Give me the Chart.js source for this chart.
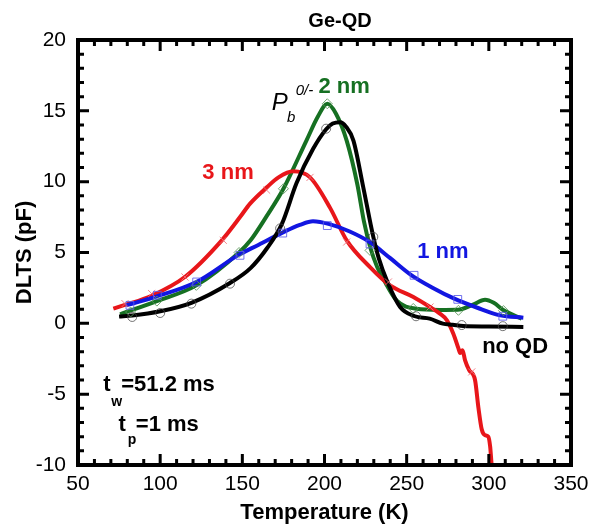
<!DOCTYPE html>
<html>
<head>
<meta charset="utf-8">
<script src="https://cdn.jsdelivr.net/npm/chart.js@4.4.1/dist/chart.umd.min.js"></script>
<style>
  html, body { margin: 0; padding: 0; background: #fff; }
  #wrap { width: 600px; height: 527px; position: relative; }
</style>
</head>
<body>
<div id="wrap"><canvas id="c" width="600" height="527"></canvas></div>
<script>
// ---- Data ----
const xTicks = [50, 100, 150, 200, 250, 300, 350];
const yTicks = [-10, -5, 0, 5, 10, 15, 20];

// no QD (black)
const tempNoQD = [75, 83, 100, 119, 142.5, 155, 165, 174, 183, 193, 201, 205, 209.5, 213, 217.6, 223.6, 229.7, 233, 238, 246, 255, 264, 272, 278, 284.5, 300, 321];
const dltsNoQD = [0.48, 0.55, 0.85, 1.45, 2.85, 3.9, 5.3, 7.0, 9.9, 12.3, 13.7, 14.1, 14.2, 13.9, 12.9, 9.6, 6.1, 4.6, 3.0, 1.15, 0.5, 0.33, -0.02, -0.1, -0.19, -0.22, -0.26];

// 2 nm (green)
const temp2nm = [75.6, 98, 122, 148, 155, 165, 175, 189, 196, 201.7, 207, 213.5, 220, 224, 228, 232, 236, 244, 256, 270, 281, 290, 297.7, 303, 309, 320];
const dlts2nm = [0.64, 1.57, 2.68, 5.0, 5.86, 7.6, 9.5, 12.9, 14.6, 15.5, 14.8, 12.9, 9.8, 7.2, 5.3, 4.0, 3.1, 1.6, 1.03, 0.95, 0.96, 1.3, 1.67, 1.45, 0.92, 0.33];

// 3 nm (red)
const temp3nm = [71.5, 78.6, 94.8, 115, 137.5, 148.6, 154.7, 164.9, 172, 181, 191.2, 203.4, 213.5, 227.7, 239.9, 254.1, 264.2, 270, 274.4, 278.4, 281.5, 282.5, 284, 285.5, 288, 291.6, 293.6, 295.7, 297.7, 299.7, 300.8, 301.8, 303];
const dlts3nm = [1.04, 1.3, 1.95, 3.27, 5.86, 7.5, 8.45, 9.6, 10.3, 10.73, 10.3, 8.15, 5.86, 3.97, 2.68, 1.86, 1.15, 0.7, 0.23, -0.73, -1.77, -2.1, -1.9, -2.6, -3.3, -4.0, -5.9, -7.5, -7.9, -8.0, -8.7, -10.1, -11];

// 1 nm (blue)
const temp1nm = [79.6, 98, 122, 148, 160, 175, 185, 193, 203, 215, 227.5, 240, 253, 266, 279, 293, 307, 321];
const dlts1nm = [1.27, 1.9, 2.92, 4.85, 5.55, 6.44, 6.95, 7.2, 7.0, 6.5, 5.74, 4.6, 3.39, 2.5, 1.74, 1.1, 0.56, 0.4];

// sparse measurement markers
const mkTempNoQD = [83, 100, 119, 142.5, 173, 201, 229.7, 255.7, 283.5, 308.5];
const mkDltsNoQD = [0.45, 0.73, 1.39, 2.8, 6.7, 13.74, 6.1, 0.5, -0.12, -0.2];
const mkTemp1nm = [81.6, 98.3, 122.2, 148.6, 174.6, 201.7, 227.7, 254.5, 281.1, 308.5];
const mkDlts1nm = [1.27, 1.98, 2.92, 4.8, 6.37, 6.9, 5.6, 3.39, 1.69, 0.5];
const mkTemp2nm = [82, 98, 122, 148, 175, 201.7, 227.7, 254, 281.5, 308.9];
const mkDlts2nm = [0.8, 1.57, 2.68, 5.0, 9.5, 15.5, 5.15, 1.05, 0.92, 0.9];
const mkTemp3nm = [78.6, 94.8, 115.1, 138.4, 164.8, 191.2, 213.5, 238.9, 264.2, 289.6];
const mkDlts3nm = [1.39, 2.1, 3.27, 5.86, 9.4, 10.3, 5.74, 2.92, 1.15, -3.43];

const pts = (xs, ys) => xs.map((x, i) => ({ x: x, y: ys[i] }));

const FONT = "'Liberation Sans', Arial, Helvetica, sans-serif";
const RED = 'rgb(232,22,26)';
const GREEN = 'rgb(22,112,34)';
const BLUE = 'rgb(18,22,225)';

function lineDs(label, xs, ys, color) {
  return { label, data: pts(xs, ys), borderColor: color, backgroundColor: color,
    borderWidth: 4, pointRadius: 0, showLine: true, cubicInterpolationMode: 'monotone', order: 2 };
}
function markDs(label, xs, ys, color, style, r) {
  return { label, data: pts(xs, ys), borderColor: color, backgroundColor: 'rgba(0,0,0,0)',
    borderWidth: 1, pointRadius: r, pointStyle: style, showLine: false, order: 1 };
}

const deco = {
  id: 'deco',
  afterDatasetsDraw(chart) {
    const ctx = chart.ctx;
    const xs = chart.scales.x, ys = chart.scales.y;
    const a = chart.chartArea;
    ctx.save();
    // ticks on all four sides, inward
    ctx.strokeStyle = '#000';
    ctx.lineWidth = 3;
    ctx.lineCap = 'butt';
    for (let t = 50; t <= 350; t += 10) {
      const major = t % 50 === 0;
      const L = major ? 11 : 6;
      const px = xs.getPixelForValue(t);
      ctx.beginPath();
      ctx.moveTo(px, a.bottom); ctx.lineTo(px, a.bottom - L);
      ctx.moveTo(px, a.top); ctx.lineTo(px, a.top + L);
      ctx.stroke();
    }
    for (let v = -10; v <= 20; v += 1) {
      const major = v % 5 === 0;
      const L = major ? 11 : 6;
      const py = ys.getPixelForValue(v);
      ctx.beginPath();
      ctx.moveTo(a.left, py); ctx.lineTo(a.left + L, py);
      ctx.moveTo(a.right, py); ctx.lineTo(a.right - L, py);
      ctx.stroke();
    }
    // frame
    ctx.lineWidth = 4;
    ctx.strokeRect(a.left, a.top, a.right - a.left, a.bottom - a.top);

    // texts
    const X = v => xs.getPixelForValue(v);
    const Y = v => ys.getPixelForValue(v);
    ctx.textBaseline = 'middle';
    ctx.textAlign = 'center';
    ctx.fillStyle = '#000';
    ctx.font = 'bold 20px ' + FONT;
    ctx.fillText('Ge-QD', 340, 21);

    ctx.font = 'bold 22px ' + FONT;
    ctx.fillStyle = RED;   ctx.fillText('3 nm', X(141.3), Y(10.6));
    ctx.fillStyle = GREEN; ctx.fillText('2 nm', X(211.9), Y(16.7));
    ctx.fillStyle = BLUE;  ctx.fillText('1 nm', X(272), Y(5.03));
    ctx.fillStyle = '#000'; ctx.fillText('no QD', X(316), Y(-1.67));

    // P_b^{0/-}
    ctx.textAlign = 'left';
    ctx.font = 'italic 24px ' + FONT;
    ctx.fillText('P', X(167.9), Y(15.5));
    ctx.font = 'italic 15px ' + FONT;
    ctx.fillText('b', X(177.2), Y(14.5));
    ctx.fillText('0/-', X(182.5), Y(16.4));

    // t_w = 51.2 ms, t_p = 1 ms
    ctx.font = 'bold 22px ' + FONT;
    ctx.fillText('t', X(65.3), Y(-4.35));
    ctx.fillText('=51.2 ms', X(76.3), Y(-4.35));
    ctx.fillText('t', X(74.7), Y(-7.17));
    ctx.fillText('=1 ms', X(85.2), Y(-7.17));
    ctx.font = 'bold 14px ' + FONT;
    ctx.fillText('w', X(70.2), Y(-5.55));
    ctx.fillText('p', X(80.2), Y(-8.23));
    ctx.restore();
  }
};

new Chart(document.getElementById('c'), {
  type: 'scatter',
  data: {
    datasets: [
      lineDs('no QD', tempNoQD, dltsNoQD, '#000'),
      lineDs('1 nm', temp1nm, dlts1nm, BLUE),
      lineDs('3 nm', temp3nm, dlts3nm, RED),
      lineDs('2 nm', temp2nm, dlts2nm, GREEN),
      markDs('no QD pts', mkTempNoQD, mkDltsNoQD, 'rgba(70,70,70,0.75)', 'circle', 4.5),
      markDs('1 nm pts', mkTemp1nm, mkDlts1nm, 'rgba(90,90,235,0.85)', 'rect', 5.5),
      markDs('2 nm pts', mkTemp2nm, mkDlts2nm, 'rgba(90,150,90,0.85)', 'rectRot', 5),
      markDs('3 nm pts', mkTemp3nm, mkDlts3nm, 'rgba(240,110,120,0.85)', 'crossRot', 5)
    ]
  },
  options: {
    responsive: false,
    animation: false,
    layout: { padding: { top: 40, right: 29, left: 0, bottom: 0 } },
    plugins: { legend: { display: false }, tooltip: { enabled: false }, title: { display: false } },
    scales: {
      x: {
        type: 'linear', min: 50, max: 350,
        afterBuildTicks: s => { s.ticks = xTicks.map(v => ({ value: v })); },
        afterFit: s => { s.height = 62; },
        grid: { display: false, drawTicks: false },
        border: { display: false },
        ticks: { color: '#000', font: { family: FONT, size: 21 }, padding: 7, maxRotation: 0 },
        title: { display: true, text: 'Temperature (K)', color: '#000',
          font: { family: FONT, size: 22, weight: 'bold' }, padding: { top: 0, bottom: 1 } }
      },
      y: {
        type: 'linear', min: -10, max: 20,
        afterBuildTicks: s => { s.ticks = yTicks.map(v => ({ value: v })); },
        afterFit: s => { s.width = 78; },
        grid: { display: false, drawTicks: false },
        border: { display: false },
        ticks: { color: '#000', font: { family: FONT, size: 21 }, padding: 12 },
        title: { display: true, text: 'DLTS (pF)', color: '#000',
          font: { family: FONT, size: 22, weight: 'bold' }, padding: { top: 12, bottom: 0 } }
      }
    }
  },
  plugins: [deco]
});
</script>
</body>
</html>
